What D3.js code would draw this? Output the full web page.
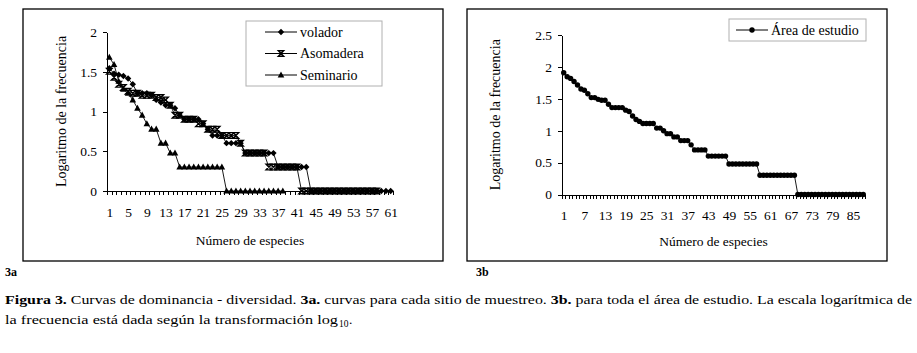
<!DOCTYPE html>
<html>
<head>
<meta charset="utf-8">
<script src="https://cdn.jsdelivr.net/npm/d3@7"></script>
<style>
  body { margin: 0; background: #fff; }
  svg text { font-family: "Liberation Serif", "DejaVu Serif", "Times New Roman", serif; fill: #000; }
  .axis path, .axis line { stroke: #000; stroke-width: 1; shape-rendering: crispEdges; }
  .axis text { font-size: 13.5px; }
</style>
</head>
<body>
<script>
// ---------------- data (log10 of the frequency) ----------------
var volador = [1.544, 1.477, 1.462, 1.447, 1.415, 1.342, 1.230, 1.230, 1.230, 1.204,
  1.146, 1.114, 1.079, 1.079, 1.041, 0.954, 0.903, 0.903, 0.903, 0.903,
  0.845, 0.778, 0.699, 0.699, 0.699, 0.602, 0.602, 0.602, 0.602, 0.477,
  0.477, 0.477, 0.477, 0.477, 0.477, 0.477, 0.301, 0.301, 0.301, 0.301,
  0.301, 0.301, 0.301, 0, 0, 0, 0, 0, 0, 0,
  0, 0, 0, 0, 0, 0, 0, 0, 0, 0, 0];
var asomadera = [1.505, 1.431, 1.342, 1.301, 1.255, 1.230, 1.230, 1.204, 1.204, 1.204,
  1.176, 1.176, 1.146, 1.079, 0.954, 0.954, 0.903, 0.903, 0.903, 0.845,
  0.845, 0.778, 0.778, 0.778, 0.699, 0.699, 0.699, 0.699, 0.602, 0.477,
  0.477, 0.477, 0.477, 0.477, 0.301, 0.301, 0.301, 0.301, 0.301, 0.301,
  0.301, 0, 0, 0, 0, 0, 0, 0, 0, 0,
  0, 0, 0, 0, 0, 0, 0, 0];
var seminario = [1.681, 1.591, 1.380, 1.279, 1.230, 1.146, 1.041, 0.954, 0.845, 0.778,
  0.778, 0.602, 0.602, 0.477, 0.477, 0.301, 0.301, 0.301, 0.301, 0.301,
  0.301, 0.301, 0.301, 0.301, 0.301, 0, 0, 0, 0, 0,
  0, 0, 0, 0, 0, 0, 0, 0];
var areaEstudio = [1.908, 1.845, 1.820, 1.771, 1.716, 1.653, 1.633, 1.580, 1.519, 1.519,
  1.491, 1.477, 1.477, 1.415, 1.362, 1.362, 1.362, 1.362, 1.322, 1.301,
  1.230, 1.176, 1.146, 1.114, 1.114, 1.114, 1.114, 1.041, 1.041, 1.000,
  0.954, 0.954, 0.903, 0.903, 0.845, 0.845, 0.845, 0.778, 0.699, 0.699,
  0.699, 0.699, 0.602, 0.602, 0.602, 0.602, 0.602, 0.602, 0.477, 0.477,
  0.477, 0.477, 0.477, 0.477, 0.477, 0.477, 0.477, 0.301, 0.301, 0.301,
  0.301, 0.301, 0.301, 0.301, 0.301, 0.301, 0.301, 0.301, 0, 0,
  0, 0, 0, 0, 0, 0, 0, 0, 0, 0,
  0, 0, 0, 0, 0, 0, 0, 0];

var nSpeciesA = 61, nSpeciesB = 88;
var xLabelsA = [1, 5, 9, 13, 17, 21, 25, 29, 33, 37, 41, 45, 49, 53, 57, 61];
var xLabelsB = [1, 7, 13, 19, 25, 31, 37, 43, 49, 55, 61, 67, 73, 79, 85];
var yTicksA = [0, 0.5, 1, 1.5, 2];
var yTicksB = [0, 0.5, 1, 1.5, 2, 2.5];
var seriesNamesA = ["volador", "Asomadera", "Seminario"];

var serif = '"Liberation Serif", "DejaVu Serif", "Times New Roman", serif';

// ---------------- svg ----------------
var svg = d3.select("body").append("svg")
    .attr("width", 917).attr("height", 353)
    .style("font-family", serif);
svg.append("rect").attr("width", 917).attr("height", 353).attr("fill", "#fff");

// marker shapes
function marker(sel, kind) {
  if (kind == "diamond") {
    sel.append("path").attr("d", "M0,-3.2 L3.2,0 L0,3.2 L-3.2,0 Z").attr("fill", "#000");
  } else if (kind == "hourglass") {
    sel.append("path").attr("d", "M-2.7,-2.8 L2.7,-2.8 L-2.7,2.8 L2.7,2.8 Z")
      .attr("fill", "none").attr("stroke", "#000").attr("stroke-width", 1.4);
  } else if (kind == "triangle") {
    sel.append("path").attr("d", "M0,-3.6 L3.3,2.5 L-3.3,2.5 Z").attr("fill", "#000");
  } else {
    sel.append("circle").attr("r", 2.7).attr("fill", "#000");
  }
}

function panel(o) {
  // outer frame
  svg.append("rect")
    .attr("x", o.frame[0]).attr("y", o.frame[1])
    .attr("width", o.frame[2]).attr("height", o.frame[3])
    .attr("fill", "none").attr("stroke", "#000").attr("stroke-width", 1.3);

  var x = d3.scaleLinear().domain([0.5, o.n + 0.5]).range(o.xr);
  var y = d3.scaleLinear().domain([0, o.ymax]).range(o.yr);

  // y axis
  svg.append("g").attr("class", "axis")
    .attr("transform", "translate(" + o.xr[0] + ",0)")
    .call(d3.axisLeft(y).tickValues(o.yticks).tickSize(4).tickSizeOuter(0).tickPadding(6)
      .tickFormat(function(d) { return d; }));

  // x axis: tick marks between categories
  svg.append("g").attr("class", "axis")
    .attr("transform", "translate(0," + o.yr[0] + ")")
    .call(d3.axisBottom(x).tickValues(d3.range(0.5, o.n + 1, 1)).tickSize(4)
      .tickSizeOuter(0).tickFormat(""));
  // x axis labels (category numbers)
  var xl = svg.append("g").attr("class", "axis")
    .attr("transform", "translate(0," + o.yr[0] + ")")
    .call(d3.axisBottom(x).tickValues(o.xlabels).tickSize(0).tickPadding(16));
  xl.select(".domain").remove();

  // axis titles
  svg.append("text")
    .attr("x", d3.mean(o.xr)).attr("y", o.xtitleY)
    .attr("text-anchor", "middle").style("font-size", "13.5px")
    .text("Número de especies");
  svg.append("text")
    .attr("transform", "translate(" + o.ytitleX + "," + d3.mean(o.yr) + ") rotate(-90)")
    .attr("text-anchor", "middle").style("font-size", "14px")
    .text("Logaritmo de la frecuencia");

  // series
  var line = d3.line()
    .x(function(d, i) { return x(i + 1); })
    .y(function(d) { return y(d); });
  o.series.forEach(function(s) {
    svg.append("path").attr("d", line(s.values))
      .attr("fill", "none").attr("stroke", "#000").attr("stroke-width", 0.9);
    s.values.forEach(function(v, i) {
      var g = svg.append("g").attr("transform", "translate(" + x(i + 1) + "," + y(v) + ")");
      marker(g, s.marker);
    });
  });

  // legend
  var lg = o.legend;
  svg.append("rect")
    .attr("x", lg.box[0]).attr("y", lg.box[1]).attr("width", lg.box[2]).attr("height", lg.box[3])
    .attr("fill", "#fff").attr("stroke", "#b0b0b0").attr("stroke-width", 1);
  o.series.forEach(function(s, i) {
    var yy = lg.y0 + i * lg.dy;
    svg.append("line").attr("x1", lg.x0).attr("x2", lg.x0 + 32)
      .attr("y1", yy).attr("y2", yy).attr("stroke", "#000").attr("stroke-width", 1);
    marker(svg.append("g").attr("transform", "translate(" + (lg.x0 + 16) + "," + yy + ")"), s.marker);
    svg.append("text").attr("x", lg.x0 + 35).attr("y", yy).attr("dy", "0.35em")
      .style("font-size", "14px").text(s.name);
  });
}

panel({
  frame: [23, 9, 420, 252],
  n: nSpeciesA, xr: [107, 393], yr: [191, 32], ymax: 2,
  yticks: yTicksA, xlabels: xLabelsA,
  xtitleY: 245, ytitleX: 66,
  series: [
    {name: seriesNamesA[0], values: volador, marker: "diamond"},
    {name: seriesNamesA[1], values: asomadera, marker: "hourglass"},
    {name: seriesNamesA[2], values: seminario, marker: "triangle"}
  ],
  legend: {box: [246, 21, 136, 65], x0: 265, y0: 32, dy: 21.5}
});

panel({
  frame: [467, 9, 420, 252],
  n: nSpeciesB, xr: [562, 865], yr: [194.5, 35], ymax: 2.5,
  yticks: yTicksB, xlabels: xLabelsB,
  xtitleY: 246, ytitleX: 500,
  series: [
    {name: "Área de estudio", values: areaEstudio, marker: "circle"}
  ],
  legend: {box: [729, 19, 137, 22], x0: 736, y0: 30, dy: 15}
});

// panel tags and caption
svg.append("text").attr("x", 5).attr("y", 276).style("font-size", "12px")
  .style("font-weight", "bold").text("3a");
svg.append("text").attr("x", 476).attr("y", 276).style("font-size", "12px")
  .style("font-weight", "bold").text("3b");

var cap1 = svg.append("text").attr("x", 5).attr("y", 304).style("font-size", "13.5px")
  .attr("textLength", 907).attr("lengthAdjust", "spacingAndGlyphs");
cap1.append("tspan").style("font-weight", "bold").text("Figura 3.");
cap1.append("tspan").text(" Curvas de dominancia - diversidad. ");
cap1.append("tspan").style("font-weight", "bold").text("3a.");
cap1.append("tspan").text(" curvas para cada sitio de muestreo. ");
cap1.append("tspan").style("font-weight", "bold").text("3b.");
cap1.append("tspan").text(" para toda el área de estudio. La escala logarítmica de");

svg.append("text").attr("x", 5).attr("y", 324).style("font-size", "13.5px")
  .attr("textLength", 333).attr("lengthAdjust", "spacingAndGlyphs")
  .text("la frecuencia está dada según la transformación log");
svg.append("text").attr("x", 339).attr("y", 327).style("font-size", "9.5px").text("10");
svg.append("text").attr("x", 349).attr("y", 324).style("font-size", "13.5px").text(".");

// make sure every label uses the serif face (d3 axes set their own family)
svg.selectAll("g.axis").attr("font-family", null);
svg.selectAll("text").style("font-family", serif);
</script>
</body>
</html>
